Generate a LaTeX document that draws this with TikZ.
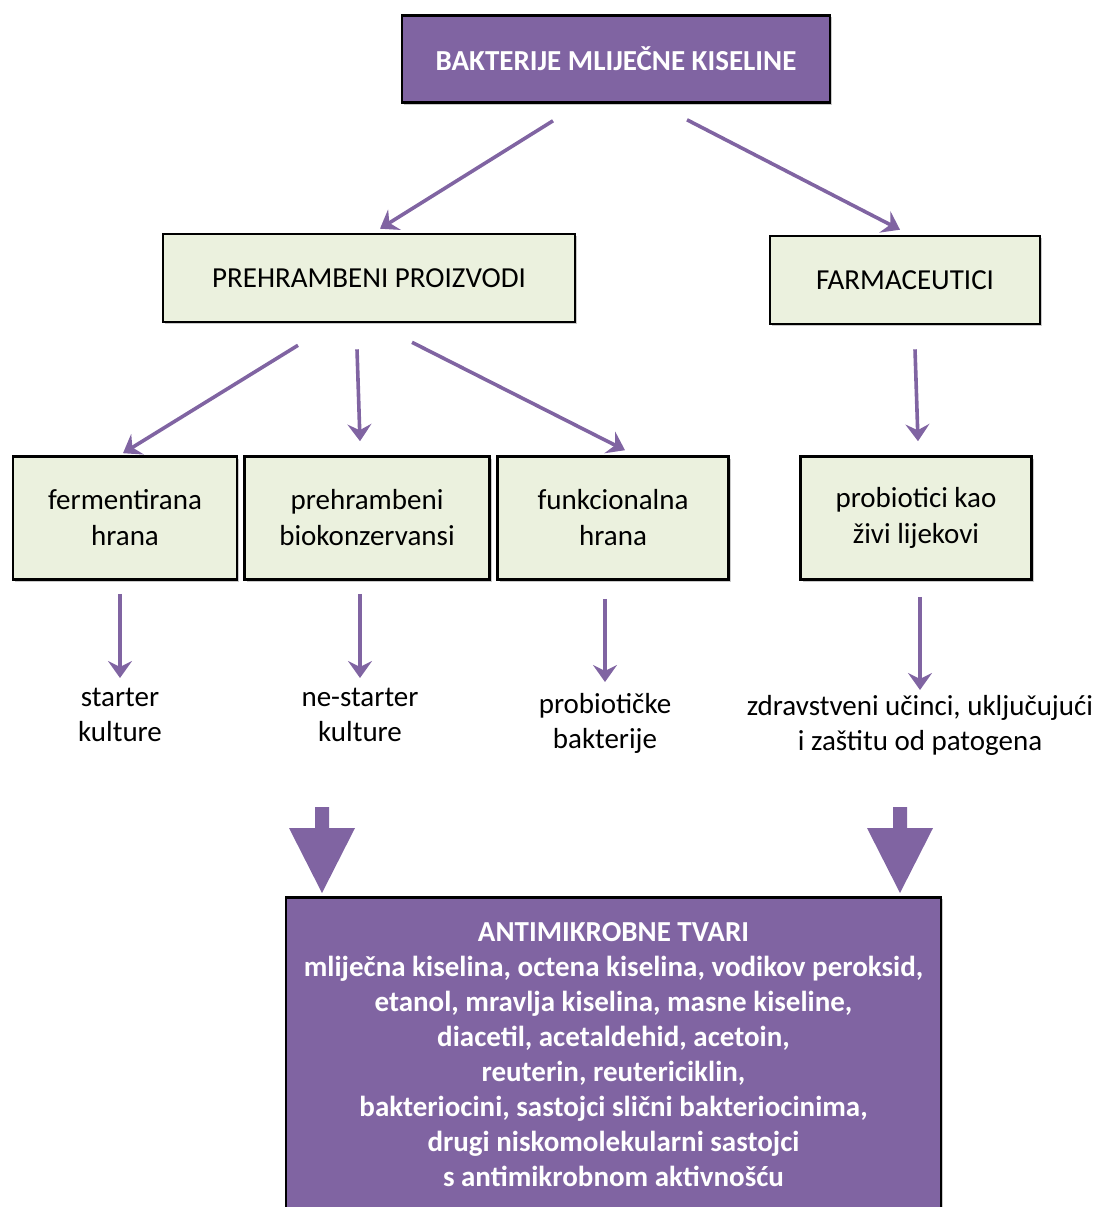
\documentclass[tikz,border=0pt]{standalone}
\usepackage{fontspec}
\setmainfont{Carlito}
\usetikzlibrary{arrows.meta,positioning,calc,shadows}

\definecolor{ljubicasta}{HTML}{8064A2}
\definecolor{zelenkasta}{HTML}{EBF1DE}

\begin{document}
\begin{tikzpicture}[x=1pt, y=-1pt, >={Stealth[length=17pt,width=24pt,inset=6pt]},
  sjena/.style={drop shadow={shadow xshift=2pt, shadow yshift=-2pt, opacity=0.35, fill=black!60}},
  kutija/.style={draw=black, line width=2.6pt, fill=zelenkasta, align=center, inner sep=0pt,
    font=\fontsize{29}{36}\selectfont, sjena},
  glavna/.style={kutija, fill=ljubicasta, text=white, font=\bfseries\fontsize{29}{35}\selectfont},
  oznaka/.style={align=center, inner sep=0pt, font=\fontsize{29}{35}\selectfont},
  strelica/.style={->, draw=ljubicasta, line width=3.6pt}]
  % okvir slike
  \useasboundingbox (0,0) rectangle (1096,1207);

  % gornja razina
  \node[glavna, minimum width=428pt, minimum height=87pt] (bmk) at (616,59) {BAKTERIJE MLIJEČNE KISELINE};

  % druga razina
  \node[kutija, minimum width=412pt, minimum height=88pt] (hrana) at (369,278) {PREHRAMBENI PROIZVODI};
  \node[kutija, minimum width=270pt, minimum height=88pt] (farm) at (905,280) {FARMACEUTICI};

  % treća razina
  \node[kutija, minimum width=224pt, minimum height=123pt] (ferm) at (125,518) {fermentirana\\hrana};
  \node[kutija, minimum width=245pt, minimum height=123pt] (bio) at (367,518) {prehrambeni\\biokonzervansi};
  \node[kutija, minimum width=231pt, minimum height=123pt] (funk) at (613,518) {funkcionalna\\hrana};
  \node[kutija, minimum width=231pt, minimum height=123pt] (prob) at (916,518) {probiotici kao\\živi lijekovi};

  % oznake ispod
  \node[oznaka, anchor=north] (starter) at (120,688) {starter\\kulture};
  \node[oznaka, anchor=north] (nestarter) at (360,688) {ne-starter\\kulture};
  \node[oznaka, anchor=north] (probbak) at (605,693) {probiotičke\\bakterije};
  \node[oznaka, anchor=north] (zdrav) at (920,695) {zdravstveni učinci, uključujući\\i zaštitu od patogena};

  % donja kutija (izlazi izvan slike)
  \node[glavna, minimum width=655pt, minimum height=330pt, anchor=north] (tvari) at (613.5,896) {};
  \node[text=white, align=center, inner sep=0pt, anchor=north,
    font=\bfseries\fontsize{29}{35}\selectfont] (popis) at (613.5,922)
    {ANTIMIKROBNE TVARI\\
     mliječna kiselina, octena kiselina, vodikov peroksid,\\
     etanol, mravlja kiselina, masne kiseline,\\
     diacetil, acetaldehid, acetoin,\\
     reuterin, reutericiklin,\\
     bakteriocini, sastojci slični bakteriocinima,\\
     drugi niskomolekularni sastojci\\
     s antimikrobnom aktivnošću};

  % strelice
  \draw[strelica] ([shift={(-63,17)}]bmk.south) -- ([shift={(11,-4)}]hrana.north);
  \draw[strelica] ([shift={(71,16)}]bmk.south) -- ([shift={(-5,-5)}]farm.north);
  \draw[strelica] ([shift={(-71,22)}]hrana.south) -- ([shift={(-2,-2)}]ferm.north);
  \draw[strelica] ([shift={(-12,26)}]hrana.south) -- ([shift={(-7,-14)}]bio.north);
  \draw[strelica] ([shift={(43,19)}]hrana.south) -- ([shift={(12,-5)}]funk.north);
  \draw[strelica] ([shift={(10,24)}]farm.south) -- ([shift={(2,-14)}]prob.north);
  \draw[strelica, shorten <=13pt, shorten >=10pt] (ferm.south -| starter.north) -- (starter.north);
  \draw[strelica, shorten <=13pt, shorten >=10pt] (bio.south -| nestarter.north) -- (nestarter.north);
  \draw[strelica, shorten <=18pt, shorten >=11pt] (funk.south -| probbak.north) -- (probbak.north);
  \draw[strelica, shorten <=16pt, shorten >=5pt] (prob.south -| zdrav.north) -- (zdrav.north);

  % velike strelice prema donjoj kutiji
  \foreach \sx in {322,900}
    \fill[ljubicasta] (\sx-7,807) -- (\sx+7,807) -- (\sx+7,828) -- (\sx+33,828)
      -- (\sx,893) -- (\sx-33,828) -- (\sx-7,828) -- cycle;
\end{tikzpicture}
\end{document}
